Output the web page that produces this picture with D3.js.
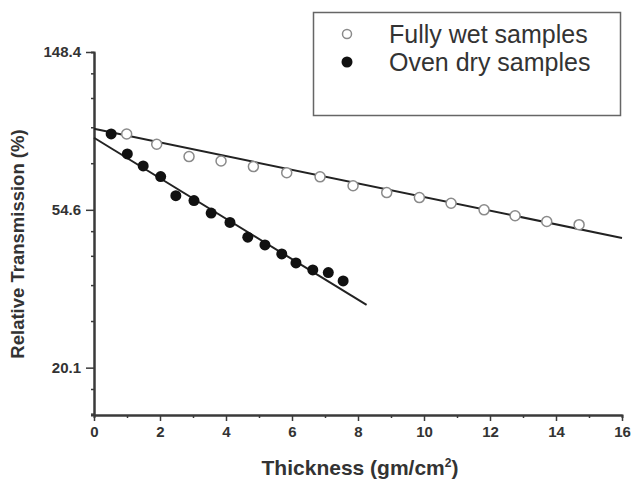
<!DOCTYPE html>
<html>
<head lang="en">
	<meta charset="UTF-8">
	<title></title>
	<script src="https://cdn.jsdelivr.net/npm/d3@7"></script>
	<style>
		body { margin: 0; background: #fff; }
		text { font-family: Arial, "Liberation Sans", sans-serif; }
	</style>
</head>
<body>
<script>

	// thickness (gm/cm2) and relative transmission (%)
	var wetX = [0.99, 1.90, 2.88, 3.85, 4.83, 5.84, 6.85, 7.85, 8.87, 9.86, 10.82, 11.82, 12.76, 13.72, 14.70];
	var wetY = [88.3, 82.7, 76.5, 74.4, 71.8, 69.1, 67.3, 63.6, 60.9, 59.0, 56.9, 54.6, 52.6, 50.7, 49.7];

	var dryX = [0.52, 1.01, 1.49, 2.02, 2.48, 3.03, 3.55, 4.12, 4.66, 5.18, 5.69, 6.12, 6.63, 7.10, 7.55];
	var dryY = [88.3, 77.8, 72.1, 67.4, 59.7, 57.9, 53.5, 50.4, 45.9, 43.7, 41.3, 39.0, 37.3, 36.7, 34.8];

	// fitted lines, end points
	var wetFitX = [0, 16];
	var wetFitY = [91.2, 45.7];
	var dryFitX = [0, 8.26];
	var dryFitY = [86.2, 29.9];

	var xTicks = [0, 2, 4, 6, 8, 10, 12, 14, 16];
	var xMinor = [1, 3, 5, 7, 9, 11, 13, 15];
	var yTicks = [Math.exp(3), Math.exp(4), Math.exp(5)];
	var yTickLabels = ["20.1", "54.6", "148.4"];

	var legendNames = ["Fully wet samples", "Oven dry samples"];

	var W = 632, H = 481;
	var Plot = {left: 94, right: 622, top: 52, bottom: 415};

	var svg = d3.select('body').append('svg').attr('width', W).attr('height', H);

	var x = d3.scaleLinear().domain([0, 16]).range([Plot.left, Plot.right]);
	var y = d3.scaleLog().domain([Math.exp(2.7), Math.exp(5)]).range([Plot.bottom, Plot.top]);

	// minor y ticks: 4 linear steps between majors (Origin style)
	var yMinor = [];
	var yEdges = [Math.exp(2)].concat(yTicks);
	for (var i = 1; i < yEdges.length; i++) {
		var step = (yEdges[i] - yEdges[i - 1]) / 5;
		for (var k = 1; k < 5; k++) {
			var v = yEdges[i - 1] + step * k;
			if (v > y.domain()[0]) yMinor.push(v);
		}
	}

	var axisColor = '#3a3a3a';

	function styleAxis(g) {
		g.attr('font-size', null).attr('font-family', null);
		g.select('.domain').attr('stroke', axisColor).attr('stroke-width', 2);
		g.selectAll('.tick line').attr('stroke', axisColor).attr('stroke-width', 1.5);
		g.selectAll('.tick text')
				.style('font-size', '15px')
				.style('font-weight', 'bold')
				.attr('fill', '#333');
	}

	// x axis
	svg.append('g')
			.attr('transform', 'translate(0,' + Plot.bottom + ')')
			.call(d3.axisBottom(x).tickValues(xMinor).tickSize(3).tickFormat(''))
			.call(styleAxis);
	svg.append('g')
			.attr('transform', 'translate(0,' + Plot.bottom + ')')
			.call(d3.axisBottom(x).tickValues(xTicks).tickSize(6).tickSizeOuter(0).tickPadding(5).tickFormat(d3.format('d')))
			.call(styleAxis);

	// y axis
	svg.append('g')
			.attr('transform', 'translate(' + Plot.left + ',0)')
			.call(d3.axisLeft(y).tickValues(yMinor).tickSize(3).tickFormat(''))
			.call(styleAxis);
	svg.append('g')
			.attr('transform', 'translate(' + Plot.left + ',0)')
			.call(d3.axisLeft(y).tickValues(yTicks).tickSize(8).tickSizeOuter(0).tickPadding(5)
					.tickFormat(function (d, i) { return yTickLabels[i]; }))
			.call(styleAxis);

	// axis titles
	var xt = svg.append('text')
			.attr('x', 360)
			.attr('y', 475)
			.attr('text-anchor', 'middle')
			.style('font-size', '21px')
			.style('font-weight', 'bold')
			.attr('fill', '#333');
	xt.append('tspan').text('Thickness (gm/cm');
	xt.append('tspan').text('2').attr('dy', -8).style('font-size', '12px');
	xt.append('tspan').text(')').attr('dy', 8);

	svg.append('text')
			.attr('transform', 'translate(24,244) rotate(-90)')
			.attr('text-anchor', 'middle')
			.style('font-size', '18.5px')
			.style('font-weight', 'bold')
			.attr('fill', '#333')
			.text('Relative Transmission (%)');

	// fit lines
	var line = d3.line().x(function (d) { return x(d[0]); }).y(function (d) { return y(d[1]); });
	[[wetFitX, wetFitY], [dryFitX, dryFitY]].forEach(function (f) {
		svg.append('path')
				.datum(d3.zip(f[0], f[1]))
				.attr('d', line)
				.attr('fill', 'none')
				.attr('stroke', '#222')
				.attr('stroke-width', 2);
	});

	// points
	svg.append('g').selectAll('circle')
			.data(d3.zip(wetX, wetY))
			.enter().append('circle')
			.attr('cx', function (d) { return x(d[0]); })
			.attr('cy', function (d) { return y(d[1]); })
			.attr('r', 5)
			.style('fill', 'white')
			.style('stroke', '#8a8a8a')
			.style('stroke-width', 1.5);

	svg.append('g').selectAll('circle')
			.data(d3.zip(dryX, dryY))
			.enter().append('circle')
			.attr('cx', function (d) { return x(d[0]); })
			.attr('cy', function (d) { return y(d[1]); })
			.attr('r', 5.5)
			.style('fill', '#111');

	// legend
	svg.append('rect')
			.attr('x', 313.5).attr('y', 12.5)
			.attr('width', 307).attr('height', 103)
			.attr('fill', 'white')
			.attr('stroke', '#666')
			.attr('stroke-width', 1.5);

	svg.append('circle').attr('cx', 347).attr('cy', 34).attr('r', 4.5)
			.style('fill', 'white').style('stroke', '#8a8a8a').style('stroke-width', 1.5);
	svg.append('circle').attr('cx', 347).attr('cy', 62).attr('r', 5.5)
			.style('fill', '#111');

	legendNames.forEach(function (name, i) {
		svg.append('text')
				.attr('x', 389)
				.attr('y', 43 + i * 28)
				.style('font-size', '25px')
				.attr('fill', '#333')
				.text(name);
	});

</script>
</body>
</html>
